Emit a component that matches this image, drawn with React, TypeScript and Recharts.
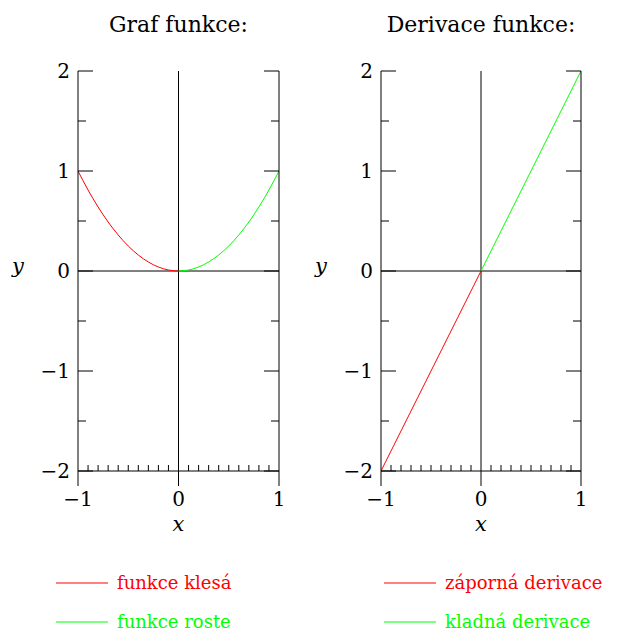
import React from "react";
import { LineChart, Line, XAxis, YAxis, ReferenceLine, Legend } from "recharts";

// tick positions
const xMajor = [-1, 0, 1];
const xMinor = [-0.9, -0.8, -0.7, -0.6, -0.5, -0.4, -0.3, -0.2, -0.1, 0.1, 0.2, 0.3, 0.4, 0.5, 0.6, 0.7, 0.8, 0.9];
const yMajor = [-2, -1, 0, 1, 2];
const yMinor = [-1.5, -0.5, 0.5, 1.5];

// Graf funkce: y = x^2
const falling = [
  { x: -1, y: 1 },
  { x: -0.9, y: 0.81 },
  { x: -0.8, y: 0.64 },
  { x: -0.7, y: 0.49 },
  { x: -0.6, y: 0.36 },
  { x: -0.5, y: 0.25 },
  { x: -0.4, y: 0.16 },
  { x: -0.3, y: 0.09 },
  { x: -0.2, y: 0.04 },
  { x: -0.1, y: 0.01 },
  { x: 0, y: 0 },
];
const rising = [
  { x: 0, y: 0 },
  { x: 0.1, y: 0.01 },
  { x: 0.2, y: 0.04 },
  { x: 0.3, y: 0.09 },
  { x: 0.4, y: 0.16 },
  { x: 0.5, y: 0.25 },
  { x: 0.6, y: 0.36 },
  { x: 0.7, y: 0.49 },
  { x: 0.8, y: 0.64 },
  { x: 0.9, y: 0.81 },
  { x: 1, y: 1 },
];

// Derivace funkce: y' = 2x
const negative = [
  { x: -1, y: -2 },
  { x: 0, y: 0 },
];
const positive = [
  { x: 0, y: 0 },
  { x: 1, y: 2 },
];

const xTicks = [...xMajor, ...xMinor].sort((a, b) => a - b);
const yTicks = [...yMajor, ...yMinor].sort((a, b) => a - b);

const FONT = "'DejaVu Serif', serif";
const minus = (v: number) => String(v).replace("-", "\u2212");
const LABEL_SIZE = 20;

// bottom axis: major ticks point out with a label, minor ticks point in
const XTick = ({ x, y, payload }: any) => {
  const major = xMajor.includes(payload.value);
  return (
    <g>
      <line x1={x} x2={x} y1={y} y2={major ? y + 15 : y - 6} stroke="#000" />
      {major && (
        <text
          x={x}
          y={y + 21}
          dy="0.71em"
          textAnchor="middle"
          fill="#000"
          fontSize={LABEL_SIZE}
          fontFamily={FONT}
        >
          {minus(payload.value)}
        </text>
      )}
    </g>
  );
};

// left axis: ticks point in, labels outside
const LeftTick = ({ x, y, payload }: any) => {
  const major = yMajor.includes(payload.value);
  return (
    <g>
      <line x1={x} x2={x + (major ? 15 : 8)} y1={y} y2={y} stroke="#000" />
      {major && (
        <text
          x={x - 8}
          y={y}
          dy="0.36em"
          textAnchor="end"
          fill="#000"
          fontSize={LABEL_SIZE}
          fontFamily={FONT}
        >
          {minus(payload.value)}
        </text>
      )}
    </g>
  );
};

// right axis: ticks point in, no labels
const RightTick = ({ x, y, payload }: any) => {
  const major = yMajor.includes(payload.value);
  return <line x1={x} x2={x - (major ? 15 : 8)} y1={y} y2={y} stroke="#000" />;
};

type Series = { data: { x: number; y: number }[]; color: string; name: string };

const makeLegend = (order: string[]) => (props: any) => {
  const items = [...(props.payload || [])].sort(
    (a: any, b: any) => order.indexOf(a.value) - order.indexOf(b.value)
  );
  return (
    <div style={{ fontFamily: FONT, fontSize: 18 }}>
      {items.map((e: any) => (
        <div
          key={e.value}
          style={{ display: "flex", alignItems: "center", height: 39, color: e.color }}
        >
          <svg width={52} height={2} style={{ display: "block" }}>
            <line x1={0} y1={1} x2={52} y2={1} stroke={e.color} strokeWidth={1} />
          </svg>
          <span style={{ marginLeft: 9, whiteSpace: "nowrap" }}>{e.value}</span>
        </div>
      ))}
    </div>
  );
};

const Panel = ({
  left,
  marginLeft,
  marginRight,
  legendLeft,
  title,
  series,
}: {
  left: number;
  marginLeft: number;
  marginRight: number;
  legendLeft: number;
  title: string;
  series: Series[];
}) => {
  const plotCenter = marginLeft + (321 - marginLeft - marginRight) / 2;
  return (
    <div style={{ position: "absolute", left, top: 0, width: 321, height: 631 }}>
      <div
        style={{
          position: "absolute",
          top: 12,
          left: plotCenter - 150,
          width: 300,
          textAlign: "center",
          fontFamily: FONT,
          fontSize: 22,
        }}
      >
        {title}
      </div>
      <div
        style={{
          position: "absolute",
          top: 254,
          left: marginLeft - 66,
          fontFamily: FONT,
          fontStyle: "italic",
          fontSize: 21,
        }}
      >
        y
      </div>
      <div
        style={{
          position: "absolute",
          top: 512,
          left: plotCenter - 20,
          width: 40,
          textAlign: "center",
          fontFamily: FONT,
          fontStyle: "italic",
          fontSize: 21,
        }}
      >
        x
      </div>
      <LineChart
        width={321}
        height={631}
        margin={{ top: 71, right: marginRight - 1, bottom: 159, left: marginLeft - 1 }}
        style={{ position: "absolute", left: 0, top: 0 }}
      >
        <XAxis
          xAxisId="main"
          type="number"
          dataKey="x"
          domain={[-1, 1]}
          ticks={xTicks}
          interval={0}
          height={1}
          tickSize={0}
          tickMargin={0}
          tickLine={false}
          stroke="#000"
          tick={<XTick />}
          allowDataOverflow
        />
        <YAxis
          yAxisId="lbl"
          type="number"
          domain={[-2, 2]}
          ticks={yTicks}
          interval={0}
          width={1}
          tickSize={0}
          tickMargin={0}
          tickLine={false}
          stroke="#000"
          tick={<LeftTick />}
          allowDataOverflow
        />
        <YAxis
          yAxisId="right"
          orientation="right"
          type="number"
          domain={[-2, 2]}
          ticks={yTicks}
          interval={0}
          width={1}
          tickSize={0}
          tickMargin={0}
          tickLine={false}
          stroke="#000"
          tick={<RightTick />}
          allowDataOverflow
        />
        <ReferenceLine xAxisId="main" yAxisId="lbl" x={0} stroke="#000" />
        <ReferenceLine xAxisId="main" yAxisId="lbl" y={0} stroke="#000" />
        {series.map((s) => (
          <Line
            key={s.name}
            xAxisId="main"
            yAxisId="lbl"
            data={s.data}
            dataKey="y"
            name={s.name}
            type="monotone"
            stroke={s.color}
            strokeWidth={1}
            dot={false}
            activeDot={false}
            isAnimationActive={false}
          />
        ))}
        <Legend
          layout="vertical"
          align="center"
          verticalAlign="middle"
          content={makeLegend(series.map((s) => s.name))}
          wrapperStyle={{ left: legendLeft, top: 563, width: 260 }}
        />
      </LineChart>
    </div>
  );
};

export default function App() {
  return (
    <div
      style={{
        position: "absolute",
        left: 0,
        top: 0,
        width: 642,
        height: 631,
        background: "#fff",
      }}
    >
      <Panel
        left={0}
        marginLeft={78}
        marginRight={42}
        legendLeft={56}
        title="Graf funkce:"
        series={[
          { data: falling, color: "#ff0000", name: "funkce klesá" },
          { data: rising, color: "#00ff00", name: "funkce roste" },
        ]}
      />
      <Panel
        left={321}
        marginLeft={60}
        marginRight={61}
        legendLeft={63}
        title="Derivace funkce:"
        series={[
          { data: negative, color: "#ff0000", name: "záporná derivace" },
          { data: positive, color: "#00ff00", name: "kladná derivace" },
        ]}
      />
    </div>
  );
}
